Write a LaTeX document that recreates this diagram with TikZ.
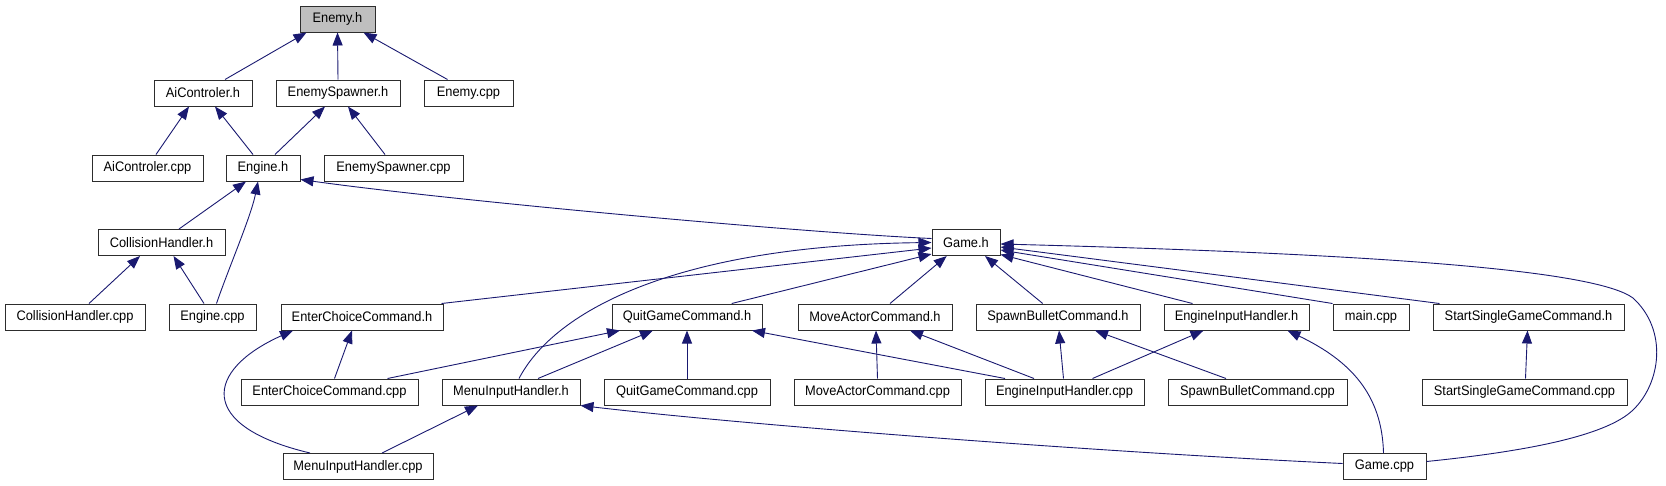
\documentclass[tikz,border=0pt]{standalone}
\usepackage{fontspec}
\setmainfont{Liberation Sans}
\newfontfamily\boxfont[FakeStretch=0.93]{Liberation Sans}
\usetikzlibrary{arrows.meta}
\definecolor{edgeblue}{RGB}{25,25,112}
\definecolor{boxline}{RGB}{45,45,45}
\definecolor{grayfill}{RGB}{191,191,191}
\tikzset{
  box/.style={draw=boxline, line width=1pt, fill=white, minimum height=26pt, inner sep=0pt, font=\boxfont\fontsize{13.8}{15}\selectfont, text=black},
  edge/.style={draw=edgeblue, line width=0.9pt, -{Triangle[length=13pt,width=10pt]}}
}
\begin{document}
\begin{tikzpicture}[x=1pt,y=-1pt]
\useasboundingbox (0,0) rectangle (1666,485);
% row 1
\node[box, fill=grayfill, minimum width=75pt] (enemyh) at (337.5,19) {Enemy.h};
% row 2
\node[box, minimum width=98pt] (aich) at (203,93) {AiControler.h};
\node[box, minimum width=124pt] (esh) at (338,93) {EnemySpawner.h};
\node[box, minimum width=89pt] (enemycpp) at (468.5,93) {Enemy.cpp};
% row 3
\node[box, minimum width=111pt] (aicpp) at (147.5,168) {AiControler.cpp};
\node[box, minimum width=74pt] (engineh) at (263,168) {Engine.h};
\node[box, minimum width=139pt] (escpp) at (393.5,168) {EnemySpawner.cpp};
% row 4
\node[box, minimum width=127pt] (collh) at (161.5,242.5) {CollisionHandler.h};
\node[box, minimum width=68pt] (gameh) at (966,242.5) {Game.h};
% row 5
\node[box, minimum width=140pt] (collcpp) at (75,317) {CollisionHandler.cpp};
\node[box, minimum width=87pt] (enginecpp) at (212.5,317) {Engine.cpp};
\node[box, minimum width=162pt] (ech) at (362,317) {EnterChoiceCommand.h};
\node[box, minimum width=150pt] (qgh) at (687,317) {QuitGameCommand.h};
\node[box, minimum width=154pt] (mah) at (875,317) {MoveActorCommand.h};
\node[box, minimum width=164pt] (sbh) at (1058,317) {SpawnBulletCommand.h};
\node[box, minimum width=145pt] (eihh) at (1236.5,317) {EngineInputHandler.h};
\node[box, minimum width=76pt] (maincpp) at (1371,317) {main.cpp};
\node[box, minimum width=191pt] (ssgh) at (1528.5,317) {StartSingleGameCommand.h};
% row 6
\node[box, minimum width=177pt] (eccpp) at (329.5,392) {EnterChoiceCommand.cpp};
\node[box, minimum width=138pt] (mihh) at (511,392) {MenuInputHandler.h};
\node[box, minimum width=166pt] (qgcpp) at (687,392) {QuitGameCommand.cpp};
\node[box, minimum width=167pt] (macpp) at (877.5,392) {MoveActorCommand.cpp};
\node[box, minimum width=159pt] (eihcpp) at (1064.5,392) {EngineInputHandler.cpp};
\node[box, minimum width=179pt] (sbcpp) at (1257.5,392) {SpawnBulletCommand.cpp};
\node[box, minimum width=205pt] (ssgcpp) at (1524.5,392) {StartSingleGameCommand.cpp};
% row 7
\node[box, minimum width=150pt] (mihcpp) at (358,466.5) {MenuInputHandler.cpp};
\node[box, minimum width=83pt] (gamecpp) at (1384.5,466.5) {Game.cpp};

% Enemy.h
\draw[edge] ([xshift=22pt]aich.north) -- ([xshift=-31pt]enemyh.south);
\draw[edge] (esh.north) -- (enemyh.south);
\draw[edge] ([xshift=-21pt]enemycpp.north) -- ([xshift=26pt]enemyh.south);
% AiControler.h
\draw[edge] ([xshift=8.5pt]aicpp.north) -- ([xshift=-14pt]aich.south);
\draw[edge] ([xshift=-10pt]engineh.north) -- ([xshift=12pt]aich.south);
% EnemySpawner.h
\draw[edge] ([xshift=12pt]engineh.north) -- ([xshift=-13pt]esh.south);
\draw[edge] ([xshift=-8.5pt]escpp.north) -- ([xshift=10pt]esh.south);
% Engine.h
\draw[edge] ([xshift=17.5pt]collh.north) -- ([xshift=-17pt]engineh.south);
\draw[edge] ([xshift=4pt]enginecpp.north) .. controls +(12,-35) and +(-7,35) .. ([xshift=-5pt]engineh.south);
\draw[edge] ([yshift=4pt]gameh.west) .. controls +(-132,-6) and +(150,21) .. ([yshift=2pt]engineh.south east);
% CollisionHandler.h
\draw[edge] ([xshift=14pt]collcpp.north) -- ([xshift=-21.5pt]collh.south);
\draw[edge] ([xshift=-8.5pt]enginecpp.north) -- ([xshift=12pt]collh.south);
% Game.h
\draw[edge] ([xshift=-2pt]ech.north east) -- ([yshift=-5.5pt]gameh.west);
\draw[edge] ([xshift=8pt]mihh.north) .. controls +(36,-69) and +(-252,3) .. (gameh.west);
\draw[edge] ([xshift=44.7pt]qgh.north) -- ([yshift=-11.5pt]gameh.west);
\draw[edge] ([xshift=15pt]mah.north) -- ([xshift=-19.3pt]gameh.south);
\draw[edge] ([xshift=-15.3pt]sbh.north) -- ([xshift=19pt]gameh.south);
\draw[edge] ([xshift=-44pt]eihh.north) -- ([yshift=-12pt]gameh.east);
\draw[edge] (maincpp.north west) -- ([yshift=-7.5pt]gameh.east);
\draw[edge] ([xshift=-89pt]ssgh.north) -- ([yshift=-4.5pt]gameh.east);
\draw[edge] ([yshift=5pt]gamecpp.east) .. controls (1520,452) and (1605,437) .. (1633,410)
   .. controls (1661,383) and (1668,330) .. (1633,298)
   .. controls (1595,270) and (1380,254) .. ([yshift=-1.5pt]gameh.east);
% EnterChoiceCommand.h
\draw[edge] ([xshift=5pt]eccpp.north) -- ([xshift=-10pt]ech.south);
\draw[edge] ([xshift=-48pt]mihcpp.north) .. controls (196,426) and (205,370) .. ([xshift=-69pt]ech.south);
% QuitGameCommand.h
\draw[edge] ([xshift=-31pt]eccpp.north east) -- ([xshift=-67pt]qgh.south);
\draw[edge] ([xshift=27pt]mihh.north) -- ([xshift=-34pt]qgh.south);
\draw[edge] (qgcpp.north) -- (qgh.south);
\draw[edge] ([xshift=-59.5pt]eihcpp.north) -- ([xshift=65pt]qgh.south);
% MoveActorCommand.h
\draw[edge] (macpp.north) -- ([xshift=1pt]mah.south);
\draw[edge] ([xshift=-30.5pt]eihcpp.north) -- ([xshift=35pt]mah.south);
% SpawnBulletCommand.h
\draw[edge] ([xshift=-1pt]eihcpp.north) -- ([xshift=1pt]sbh.south);
\draw[edge] ([xshift=-31.5pt]sbcpp.north) -- ([xshift=37pt]sbh.south);
% EngineInputHandler.h
\draw[edge] ([xshift=28pt]eihcpp.north) -- ([xshift=-33pt]eihh.south);
\draw[edge] ([xshift=-1pt]gamecpp.north) .. controls +(-1.5,-59) and +(62.5,30) .. ([xshift=51pt]eihh.south);
% StartSingleGameCommand.h
\draw[edge] ([xshift=1pt]ssgcpp.north) -- ([xshift=-1pt]ssgh.south);
% MenuInputHandler.h
\draw[edge] ([xshift=24pt]mihcpp.north) -- ([xshift=-33pt]mihh.south);
\draw[edge] ([yshift=3pt]gamecpp.west) .. controls +(-243,-11.5) and +(170,20) .. (mihh.south east);
\end{tikzpicture}
\end{document}
